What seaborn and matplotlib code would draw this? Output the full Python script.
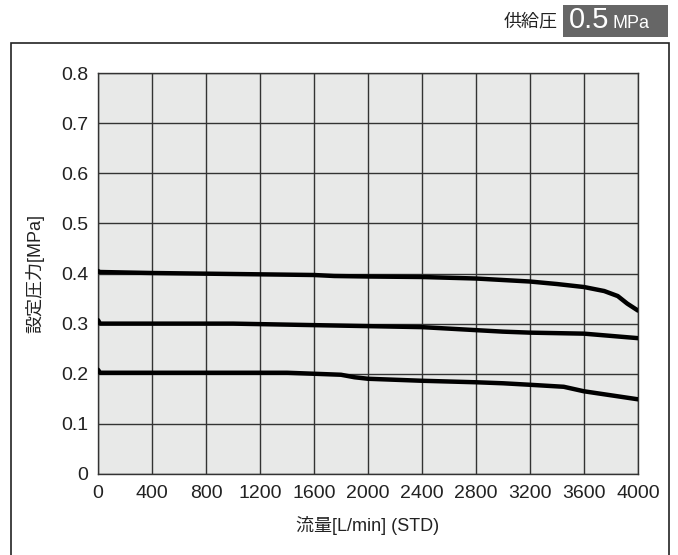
import matplotlib
matplotlib.use("Agg")
import matplotlib.pyplot as plt
import seaborn as sns
import pandas as pd
from matplotlib.patches import Rectangle

# data
flow_04 = [0, 10, 400, 1000, 1600, 1750, 2000, 2400, 2800, 3000, 3200, 3400, 3600, 3750, 3850, 3920, 4000]
pres_04 = [0.405, 0.403, 0.401, 0.399, 0.397, 0.395, 0.394, 0.393, 0.390, 0.387, 0.384, 0.379, 0.373, 0.365, 0.355, 0.340, 0.326]
flow_03 = [0, 15, 400, 1000, 1400, 2000, 2400, 2800, 3000, 3200, 3600, 4000]
pres_03 = [0.307, 0.300, 0.300, 0.300, 0.298, 0.295, 0.293, 0.287, 0.284, 0.282, 0.280, 0.271]
flow_02 = [0, 15, 400, 1000, 1400, 1800, 1900, 2000, 2400, 2800, 3000, 3200, 3450, 3600, 3800, 4000]
pres_02 = [0.208, 0.202, 0.202, 0.202, 0.202, 0.198, 0.193, 0.190, 0.186, 0.183, 0.181, 0.178, 0.174, 0.165, 0.157, 0.149]
x_ticks = [0, 400, 800, 1200, 1600, 2000, 2400, 2800, 3200, 3600, 4000]
y_ticks = [0, 0.1, 0.2, 0.3, 0.4, 0.5, 0.6, 0.7, 0.8]
y_tick_labels = ["0", "0.1", "0.2", "0.3", "0.4", "0.5", "0.6", "0.7", "0.8"]

sns.set_style("white")
plt.rcParams['font.family'] = ['Liberation Sans', 'Noto Sans CJK JP', 'DejaVu Sans']

df = pd.concat([
    pd.DataFrame({"flow": flow_04, "pres": pres_04, "s": "0.4"}),
    pd.DataFrame({"flow": flow_03, "pres": pres_03, "s": "0.3"}),
    pd.DataFrame({"flow": flow_02, "pres": pres_02, "s": "0.2"}),
])

fig = plt.figure(figsize=(6.78, 5.55), dpi=100)
ax = fig.add_axes([98/678, 1-474/555, (638-98)/678, (474-73)/555])
ax.set_facecolor("#e8e9e8")

for x in x_ticks:
    ax.axvline(x, color="#333333", lw=1.0, zorder=1)
for y in y_ticks:
    ax.axhline(y, color="#333333", lw=1.0, zorder=1)

sns.lineplot(data=df, x="flow", y="pres", hue="s", palette=["black"]*3,
             estimator=None, sort=False, linewidth=3.2, legend=False, ax=ax, zorder=3)

ax.set_xlim(0, 4000)
ax.set_ylim(0, 0.8)
ax.set_xticks(x_ticks)
ax.set_xticklabels([str(v) for v in x_ticks])
ax.set_yticks(y_ticks)
ax.set_yticklabels(y_tick_labels)
ax.tick_params(axis="both", length=0, labelsize=14, colors="#222222")
ax.tick_params(axis="x", pad=8)
ax.tick_params(axis="y", pad=7)
for sp in ax.spines.values():
    sp.set_color("#333333")
    sp.set_linewidth(1.0)

ax.set_xlabel("流量[L/min] (STD)", fontsize=13, labelpad=10, color="#222222")
ax.set_ylabel("設定圧力[MPa]", fontsize=13, labelpad=12, color="#222222")

# outer frame (open at bottom)
fig.add_artist(Rectangle((11/678, -0.05), (669-11)/678, 1-43/555+0.05,
                         transform=fig.transFigure, fill=False,
                         edgecolor="#222222", lw=1.2))

# title box
fig.add_artist(Rectangle((563/678, 1-37/555), (668-563)/678, 32/555,
                         transform=fig.transFigure, facecolor="#666666",
                         edgecolor="none"))
fig.text(558/678, 1-22/555, "供給圧", ha="right", va="center", fontsize=13, color="#222222")
fig.text(569/678, 1-20/555, "0.5", ha="left", va="center", fontsize=21, color="white")
fig.text(613/678, 1-23/555, "MPa", ha="left", va="center", fontsize=13, color="white")

fig.savefig("out.png", dpi=100)
